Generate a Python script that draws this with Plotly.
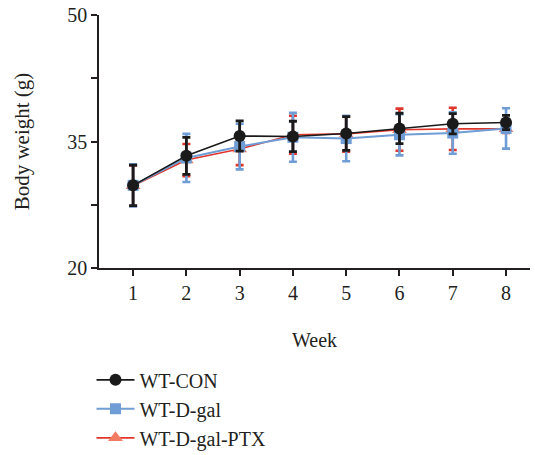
import plotly.graph_objects as go

weeks = [1, 2, 3, 4, 5, 6, 7, 8]

con_mean = [29.8, 33.3, 35.65, 35.6, 35.95, 36.55, 37.1, 37.25]
con_sd = [2.4, 2.2, 1.8, 1.8, 2.0, 1.8, 1.2, 0.85]

dgal_mean = [29.8, 33.05, 34.4, 35.5, 35.35, 35.8, 36.0, 36.55]
dgal_sd = [2.5, 2.85, 2.7, 2.9, 2.7, 2.45, 2.45, 2.4]

ptx_mean = [29.75, 32.8, 34.1, 35.8, 35.9, 36.4, 36.5, 36.5]
ptx_sd = [2.4, 1.9, 1.9, 2.25, 2.1, 2.5, 2.5, 0.5]

y_ticks = [20, 27.5, 35, 42.5, 50]
y_ticktext = ["20", "", "35", "", "50"]

FONT = "Liberation Serif, Times New Roman, serif"
INK = "#231f20"

fig = go.Figure()

# red group drawn first, then blue, black on top
fig.add_trace(go.Scatter(
    x=weeks, y=ptx_mean, name="WT-D-gal-PTX", mode="lines+markers",
    legendrank=3, legendgroup="c",
    line=dict(color="#e0352b", width=1.6),
    marker=dict(symbol="triangle-up", size=13, color="#f27a62"),
    error_y=dict(type="data", array=ptx_sd, visible=True,
                 color="#e0352b", thickness=2.6, width=4),
))
fig.add_trace(go.Scatter(
    x=weeks, y=dgal_mean, name="WT-D-gal", mode="lines+markers",
    legendrank=2, legendgroup="b",
    line=dict(color="#6f9dd6", width=2),
    marker=dict(symbol="square", size=11, color="#6f9dd6"),
    error_y=dict(type="data", array=dgal_sd, visible=True,
                 color="#6f9dd6", thickness=2.6, width=4),
))
fig.add_trace(go.Scatter(
    x=weeks, y=con_mean, name="WT-CON", mode="lines+markers",
    legendrank=1, legendgroup="a",
    line=dict(color="#1a1a1a", width=1.6),
    marker=dict(symbol="circle", size=12, color="#1a1a1a"),
    error_y=dict(type="data", array=con_sd, visible=True,
                 color="#1a1a1a", thickness=2.8, width=4),
))

fig.update_layout(
    width=535, height=455,
    margin=dict(l=99, r=5, t=15, b=187, autoexpand=False),
    paper_bgcolor="white", plot_bgcolor="white",
    font=dict(family=FONT, size=20, color=INK),
    showlegend=True,
    legend=dict(
        xref="container", yref="container",
        x=0.171, y=0.208, xanchor="left", yanchor="top",
        font=dict(family=FONT, size=20, color=INK),
        bgcolor="rgba(0,0,0,0)", tracegroupgap=0, itemwidth=38,
    ),
    xaxis=dict(
        range=[0.36, 8.45], tickvals=weeks,
        showline=True, linecolor=INK, linewidth=1.5,
        ticks="outside", ticklen=6, tickwidth=1.5, tickcolor=INK,
        showgrid=False, zeroline=False,
        title=dict(text="Week", font=dict(family=FONT, size=20), standoff=30),
    ),
    yaxis=dict(
        range=[20, 50], tickvals=y_ticks, ticktext=y_ticktext,
        showline=True, linecolor=INK, linewidth=1.5,
        ticks="outside", ticklen=6, tickwidth=1.5, tickcolor=INK,
        showgrid=False, zeroline=False,
    ),
    annotations=[dict(
        text="Body weight (g)", textangle=-90,
        xref="paper", yref="paper", x=-0.179, y=0.5,
        xanchor="center", yanchor="middle", showarrow=False,
        font=dict(family=FONT, size=21, color=INK),
    )],
)

fig.write_html("out.html")
